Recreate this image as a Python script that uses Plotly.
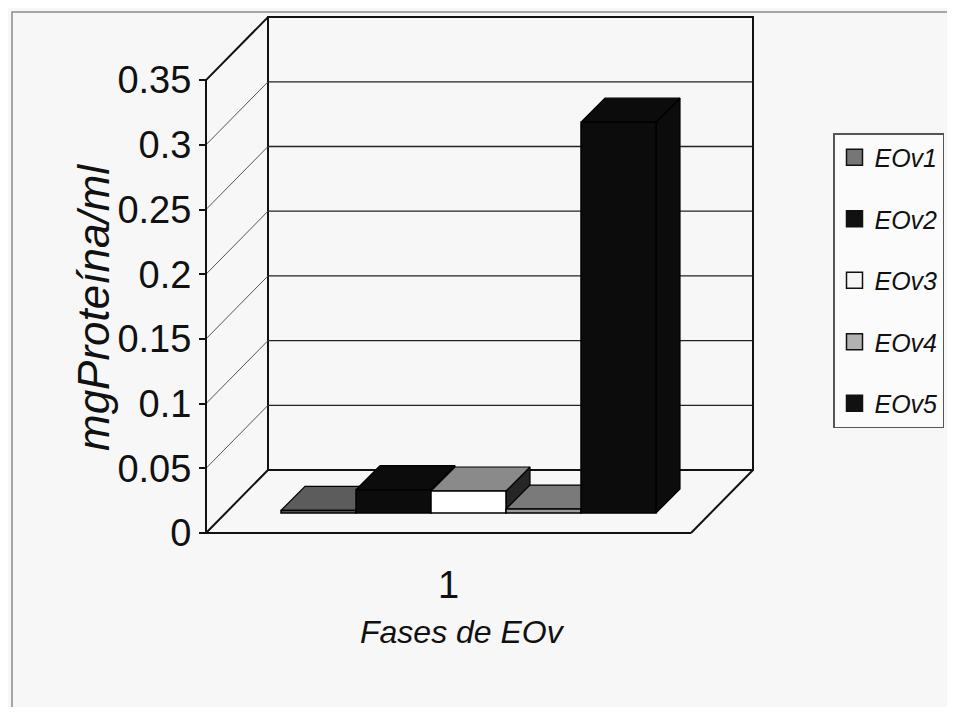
import plotly.graph_objects as go

# ---------------- data ----------------
categories = ["1"]
series = ["EOv1", "EOv2", "EOv3", "EOv4", "EOv5"]
values = [0.002, 0.018, 0.017, 0.003, 0.302]
y_ticks = [0, 0.05, 0.1, 0.15, 0.2, 0.25, 0.3, 0.35]
y_tick_labels = ["0", "0.05", "0.1", "0.15", "0.2", "0.25", "0.3", "0.35"]
y_title = "mgProteína/ml"
x_title = "Fases de EOv"

# ---------------- styles ----------------
front_colors = ["#6b6b6b", "#0c0c0c", "#ffffff", "#9c9c9c", "#0c0c0c"]
top_colors = ["#5c5c5c", "#0c0c0c", "#8a8a8a", "#7a7a7a", "#0c0c0c"]
side_colors = ["#2e2e2e", "#0c0c0c", "#262626", "#303030", "#0c0c0c"]
legend_colors = ["#767676", "#111111", "#f6f6f6", "#b2b2b2", "#111111"]
FONT = "Liberation Sans, Arial, sans-serif"

# ---------------- geometry (window pixels) ----------------
WIN_W, WIN_H = 955, 715
BODY = 8                      # default page margin around the plot div
W, H = WIN_W - 2 * BODY, WIN_H - 2 * BODY


def px(xp):
    return (xp - BODY) / W


def py(yp):
    return 1 - (yp - BODY) / H


X0, Y0 = 206, 533          # front axis origin
PPU = 1294                 # pixels per data unit (vertical)
FLOOR_W = 485              # front floor width (x units = px)
WALL_DX, WALL_DY = 62, 63  # depth of the 3D box
PLANE = 20                 # bars' front plane depth
DEPTH = 24                 # bar depth
BAR_W = 75
PAD = 4
y_max = max(y_ticks)
TOP_PX = Y0 - y_max * PPU - WALL_DY

dom_x = [px(X0 - PAD), px(X0 + FLOOR_W + WALL_DX + PAD)]
dom_y = [py(Y0 + PAD), py(TOP_PX - PAD)]
xr_a = [-PAD, FLOOR_W + WALL_DX + PAD]
yr_a = [-PAD / PPU, (Y0 - TOP_PX + PAD) / PPU]
xr_b = [v - PLANE for v in xr_a]
yr_b = [v - PLANE / PPU for v in yr_a]
wall_dy = WALL_DY / PPU
bar_dy = DEPTH / PPU
center = FLOOR_W / 2

fig = go.Figure()

# legend entries
for i, s in enumerate(series):
    fig.add_trace(go.Scatter(
        x=[None], y=[None], mode="markers", name=s, legendgroup=s,
        marker=dict(symbol="square", size=16, color=legend_colors[i],
                    line=dict(color="#111111", width=1.5)),
        xaxis="x", yaxis="y", hoverinfo="skip"))

# side and top faces (painter's order left to right)
centers = [center + (i - (len(series) - 1) / 2) * BAR_W for i in range(len(series))]
for i, s in enumerate(series):
    v = values[i]
    x0 = centers[i] - BAR_W / 2
    x1 = centers[i] + BAR_W / 2
    fig.add_trace(go.Scatter(
        x=[x1, x1, x1 + DEPTH, x1 + DEPTH, x1],
        y=[0, v, v + bar_dy, bar_dy, 0],
        fill="toself", fillcolor=side_colors[i], mode="lines",
        line=dict(color="#000000", width=1.2), showlegend=False,
        legendgroup=s, xaxis="x2", yaxis="y2", hoverinfo="skip"))
    fig.add_trace(go.Scatter(
        x=[x0, x1, x1 + DEPTH, x0 + DEPTH, x0],
        y=[v, v, v + bar_dy, v + bar_dy, v],
        fill="toself", fillcolor=top_colors[i], mode="lines",
        line=dict(color="#000000", width=1.2), showlegend=False,
        legendgroup=s, xaxis="x2", yaxis="y2", hoverinfo="skip"))

# front faces (the bars)
for i, s in enumerate(series):
    fig.add_trace(go.Bar(
        x=[centers[i]], y=[values[i]], width=BAR_W, name=s, legendgroup=s,
        marker=dict(color=front_colors[i], line=dict(color="#000000", width=1.5)),
        showlegend=False, xaxis="x3", yaxis="y3"))

# 3D box decoration
shapes = []
line_k = dict(color="#111111", width=2)
line_g = dict(color="#222222", width=1.3)
line_d = dict(color="#555555", width=1)
shapes.append(dict(type="rect", xref="x", yref="y", x0=WALL_DX, x1=WALL_DX + FLOOR_W,
                   y0=wall_dy, y1=y_max + wall_dy, line=line_k, layer="below"))
for t in y_ticks[1:-1]:
    shapes.append(dict(type="line", xref="x", yref="y", x0=WALL_DX, x1=WALL_DX + FLOOR_W,
                       y0=t + wall_dy, y1=t + wall_dy, line=line_g, layer="below"))
    shapes.append(dict(type="line", xref="x", yref="y", x0=0, x1=WALL_DX,
                       y0=t, y1=t + wall_dy, line=line_d, layer="below"))
for t in (0, y_max):
    shapes.append(dict(type="line", xref="x", yref="y", x0=0, x1=WALL_DX,
                       y0=t, y1=t + wall_dy, line=line_k, layer="below"))
shapes.append(dict(type="line", xref="x", yref="y", x0=0, x1=0, y0=0, y1=y_max,
                   line=line_k, layer="below"))
shapes.append(dict(type="line", xref="x", yref="y", x0=0, x1=FLOOR_W, y0=0, y1=0,
                   line=line_k, layer="below"))
shapes.append(dict(type="line", xref="x", yref="y", x0=FLOOR_W, x1=FLOOR_W + WALL_DX,
                   y0=0, y1=wall_dy, line=line_k, layer="below"))
# outer frame
shapes.append(dict(type="rect", xref="paper", yref="paper", x0=px(12), x1=1.05,
                   y0=-0.05, y1=py(12), line=dict(color="#8a8a8a", width=1.5)))

fig.update_layout(
    width=W, height=H,
    margin=dict(l=0, r=0, t=0, b=0, autoexpand=False),
    paper_bgcolor="#f7f7f7", plot_bgcolor="rgba(0,0,0,0)",
    font=dict(family=FONT, color="#111111"),
    barmode="overlay",
    shapes=shapes,
    xaxis=dict(domain=dom_x, range=xr_a, tickvals=[center], ticktext=categories,
               showgrid=False, zeroline=False, showline=False, ticks="",
               tickfont=dict(size=38), ticklabelstandoff=22, fixedrange=True,
               automargin=False),
    yaxis=dict(domain=dom_y, range=yr_a, anchor="free", position=px(X0),
               tickvals=y_ticks, ticktext=y_tick_labels, ticks="outside",
               ticklen=7, tickwidth=1.5, tickcolor="#111111",
               showgrid=False, zeroline=False, showline=False,
               tickfont=dict(size=38), fixedrange=True, automargin=False),
    xaxis2=dict(domain=dom_x, range=xr_b, overlaying="x", anchor="y2", visible=False,
                automargin=False),
    yaxis2=dict(domain=dom_y, range=yr_b, overlaying="y", anchor="x2", visible=False,
                automargin=False),
    xaxis3=dict(domain=dom_x, range=xr_b, overlaying="x", anchor="y3", visible=False,
                automargin=False),
    yaxis3=dict(domain=dom_y, range=yr_b, overlaying="y", anchor="x3", visible=False,
                automargin=False),
    legend=dict(x=px(833), y=py(133), xanchor="left", yanchor="top",
                bgcolor="#fbfbfb", bordercolor="#555555", borderwidth=1.5,
                font=dict(size=25, style="italic"), tracegroupgap=26,
                itemwidth=30, traceorder="grouped"),
    annotations=[
        dict(text=y_title, xref="paper", yref="paper", x=px(93), y=py(308),
             xanchor="center", yanchor="middle",
             textangle=-90, showarrow=False, font=dict(size=44, style="italic")),
        dict(text=x_title, xref="paper", yref="paper", x=px(462), y=py(632),
             xanchor="center", yanchor="middle",
             showarrow=False, font=dict(size=32, style="italic")),
    ],
)

fig.write_html("out.html")
